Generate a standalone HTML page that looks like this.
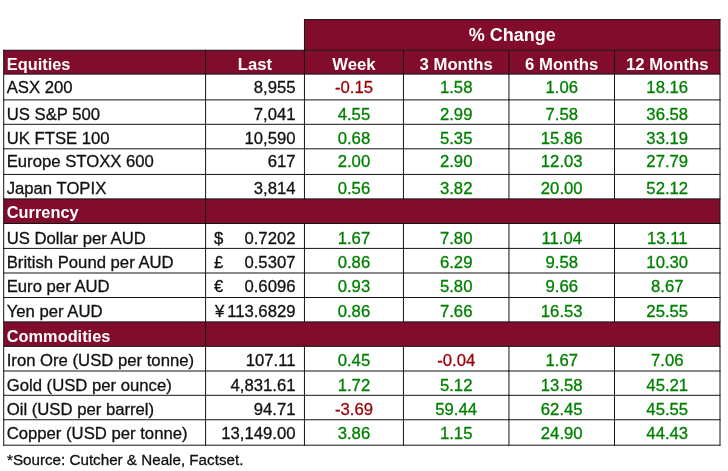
<!DOCTYPE html>
<html><head><meta charset="utf-8"><title>Market table</title>
<style>
html,body{margin:0;padding:0;background:#fff;}
body{width:728px;height:471px;overflow:hidden;}
svg{display:block;position:absolute;left:0;top:0;}
text{font-family:"Liberation Sans",sans-serif;font-size:16.7px;fill:#111111;}
.t,.r,.g,.n{stroke-width:0.3px;}
.t,.r{stroke:#111111;}
.b{font-weight:bold;fill:#fff;}
.c{text-anchor:middle;}
.r{text-anchor:end;}
.g{fill:#008000;stroke:#008000;}
.n{fill:#9c0006;stroke:#9c0006;}
.m{fill:#820c2c;}
.l{fill:#151515;}
</style></head><body>
<svg width="728" height="471" viewBox="0 0 728 471">
<rect class="m" x="304.45" y="19.60" width="415.55" height="30.65"/>
<rect class="m" x="3.70" y="50.25" width="716.30" height="23.85"/>
<rect class="m" x="3.70" y="198.90" width="716.30" height="24.60"/>
<rect class="m" x="3.70" y="321.90" width="716.30" height="24.45"/>
<rect class="l" x="303.95" y="19.10" width="416.55" height="1.00"/>
<rect class="l" x="3.20" y="49.75" width="717.30" height="1.00"/>
<rect class="l" x="3.20" y="73.60" width="717.30" height="1.00"/>
<rect class="l" x="3.20" y="99.40" width="717.30" height="1.00"/>
<rect class="l" x="3.20" y="123.80" width="717.30" height="1.00"/>
<rect class="l" x="3.20" y="148.30" width="717.30" height="1.00"/>
<rect class="l" x="3.20" y="173.95" width="717.30" height="1.00"/>
<rect class="l" x="3.20" y="198.40" width="717.30" height="1.00"/>
<rect class="l" x="3.20" y="223.00" width="717.30" height="1.00"/>
<rect class="l" x="3.20" y="247.90" width="717.30" height="1.00"/>
<rect class="l" x="3.20" y="272.50" width="717.30" height="1.00"/>
<rect class="l" x="3.20" y="297.00" width="717.30" height="1.00"/>
<rect class="l" x="3.20" y="321.40" width="717.30" height="1.00"/>
<rect class="l" x="3.20" y="345.85" width="717.30" height="1.00"/>
<rect class="l" x="3.20" y="370.50" width="717.30" height="1.00"/>
<rect class="l" x="3.20" y="394.80" width="717.30" height="1.00"/>
<rect class="l" x="3.20" y="419.25" width="717.30" height="1.00"/>
<rect class="l" x="3.20" y="444.70" width="717.30" height="1.00"/>
<rect class="l" x="3.20" y="49.75" width="1.00" height="395.95"/>
<rect class="l" x="719.50" y="19.10" width="1.00" height="426.60"/>
<rect class="l" x="205.10" y="49.75" width="1.00" height="395.95"/>
<rect class="l" x="303.95" y="19.10" width="1.00" height="180.30"/>
<rect class="l" x="303.95" y="223.00" width="1.00" height="99.40"/>
<rect class="l" x="303.95" y="345.85" width="1.00" height="99.85"/>
<rect class="l" x="402.95" y="49.75" width="1.00" height="24.85"/>
<rect class="l" x="508.45" y="49.75" width="1.00" height="24.85"/>
<rect class="l" x="614.00" y="49.75" width="1.00" height="24.85"/>
<rect class="l" x="402.95" y="73.60" width="1.00" height="26.80"/>
<rect class="l" x="508.45" y="73.60" width="1.00" height="26.80"/>
<rect class="l" x="614.00" y="73.60" width="1.00" height="26.80"/>
<rect class="l" x="402.95" y="99.40" width="1.00" height="25.40"/>
<rect class="l" x="508.45" y="99.40" width="1.00" height="25.40"/>
<rect class="l" x="614.00" y="99.40" width="1.00" height="25.40"/>
<rect class="l" x="402.95" y="123.80" width="1.00" height="25.50"/>
<rect class="l" x="508.45" y="123.80" width="1.00" height="25.50"/>
<rect class="l" x="614.00" y="123.80" width="1.00" height="25.50"/>
<rect class="l" x="402.95" y="148.30" width="1.00" height="26.65"/>
<rect class="l" x="508.45" y="148.30" width="1.00" height="26.65"/>
<rect class="l" x="614.00" y="148.30" width="1.00" height="26.65"/>
<rect class="l" x="402.95" y="173.95" width="1.00" height="25.45"/>
<rect class="l" x="508.45" y="173.95" width="1.00" height="25.45"/>
<rect class="l" x="614.00" y="173.95" width="1.00" height="25.45"/>
<rect class="l" x="402.95" y="223.00" width="1.00" height="25.90"/>
<rect class="l" x="508.45" y="223.00" width="1.00" height="25.90"/>
<rect class="l" x="614.00" y="223.00" width="1.00" height="25.90"/>
<rect class="l" x="402.95" y="247.90" width="1.00" height="25.60"/>
<rect class="l" x="508.45" y="247.90" width="1.00" height="25.60"/>
<rect class="l" x="614.00" y="247.90" width="1.00" height="25.60"/>
<rect class="l" x="402.95" y="272.50" width="1.00" height="25.50"/>
<rect class="l" x="508.45" y="272.50" width="1.00" height="25.50"/>
<rect class="l" x="614.00" y="272.50" width="1.00" height="25.50"/>
<rect class="l" x="402.95" y="297.00" width="1.00" height="25.40"/>
<rect class="l" x="508.45" y="297.00" width="1.00" height="25.40"/>
<rect class="l" x="614.00" y="297.00" width="1.00" height="25.40"/>
<rect class="l" x="402.95" y="345.85" width="1.00" height="25.65"/>
<rect class="l" x="508.45" y="345.85" width="1.00" height="25.65"/>
<rect class="l" x="614.00" y="345.85" width="1.00" height="25.65"/>
<rect class="l" x="402.95" y="370.50" width="1.00" height="25.30"/>
<rect class="l" x="508.45" y="370.50" width="1.00" height="25.30"/>
<rect class="l" x="614.00" y="370.50" width="1.00" height="25.30"/>
<rect class="l" x="402.95" y="394.80" width="1.00" height="25.45"/>
<rect class="l" x="508.45" y="394.80" width="1.00" height="25.45"/>
<rect class="l" x="614.00" y="394.80" width="1.00" height="25.45"/>
<rect class="l" x="402.95" y="419.25" width="1.00" height="26.45"/>
<rect class="l" x="508.45" y="419.25" width="1.00" height="26.45"/>
<rect class="l" x="614.00" y="419.25" width="1.00" height="26.45"/>
<text class="b c" x="512.23" y="41.30" style="font-size:18px">% Change</text>
<text class="b" x="6.80" y="70.00" style="font-size:16.35px">Equities</text>
<text class="b c" x="255.02" y="70.00">Last</text>
<text class="b c" x="353.95" y="70.00">Week</text>
<text class="b c" x="456.20" y="70.00">3 Months</text>
<text class="b c" x="561.73" y="70.00">6 Months</text>
<text class="b c" x="667.25" y="70.00">12 Months</text>
<text class="t" x="6.70" y="93.00">ASX 200</text>
<text class="r" x="295.50" y="93.00">8,955</text>
<text class="c n" x="353.95" y="93.00">-0.15</text>
<text class="c g" x="456.20" y="93.00">1.58</text>
<text class="c g" x="561.73" y="93.00">1.06</text>
<text class="c g" x="667.25" y="93.00">18.16</text>
<text class="t" x="6.70" y="120.00">US S&amp;P 500</text>
<text class="r" x="295.50" y="120.00">7,041</text>
<text class="c g" x="353.95" y="120.00">4.55</text>
<text class="c g" x="456.20" y="120.00">2.99</text>
<text class="c g" x="561.73" y="120.00">7.58</text>
<text class="c g" x="667.25" y="120.00">36.58</text>
<text class="t" x="6.70" y="144.00">UK FTSE 100</text>
<text class="r" x="295.50" y="144.00">10,590</text>
<text class="c g" x="353.95" y="144.00">0.68</text>
<text class="c g" x="456.20" y="144.00">5.35</text>
<text class="c g" x="561.73" y="144.00">15.86</text>
<text class="c g" x="667.25" y="144.00">33.19</text>
<text class="t" x="6.70" y="167.00">Europe STOXX 600</text>
<text class="r" x="295.50" y="167.00">617</text>
<text class="c g" x="353.95" y="167.00">2.00</text>
<text class="c g" x="456.20" y="167.00">2.90</text>
<text class="c g" x="561.73" y="167.00">12.03</text>
<text class="c g" x="667.25" y="167.00">27.79</text>
<text class="t" x="6.70" y="194.00">Japan TOPIX</text>
<text class="r" x="295.50" y="194.00">3,814</text>
<text class="c g" x="353.95" y="194.00">0.56</text>
<text class="c g" x="456.20" y="194.00">3.82</text>
<text class="c g" x="561.73" y="194.00">20.00</text>
<text class="c g" x="667.25" y="194.00">52.12</text>
<text class="b" x="6.80" y="218.00" style="font-size:16.35px">Currency</text>
<text class="t" x="6.70" y="244.00">US Dollar per AUD</text>
<text class="t" x="214.00" y="244.00">$</text>
<text class="r" x="295.50" y="244.00">0.7202</text>
<text class="c g" x="353.95" y="244.00">1.67</text>
<text class="c g" x="456.20" y="244.00">7.80</text>
<text class="c g" x="561.73" y="244.00">11.04</text>
<text class="c g" x="667.25" y="244.00">13.11</text>
<text class="t" x="6.70" y="268.00">British Pound per AUD</text>
<text class="t" x="214.00" y="268.00">£</text>
<text class="r" x="295.50" y="268.00">0.5307</text>
<text class="c g" x="353.95" y="268.00">0.86</text>
<text class="c g" x="456.20" y="268.00">6.29</text>
<text class="c g" x="561.73" y="268.00">9.58</text>
<text class="c g" x="667.25" y="268.00">10.30</text>
<text class="t" x="6.70" y="292.00">Euro per AUD</text>
<text class="t" x="214.00" y="292.00">€</text>
<text class="r" x="295.50" y="292.00">0.6096</text>
<text class="c g" x="353.95" y="292.00">0.93</text>
<text class="c g" x="456.20" y="292.00">5.80</text>
<text class="c g" x="561.73" y="292.00">9.66</text>
<text class="c g" x="667.25" y="292.00">8.67</text>
<text class="t" x="6.70" y="317.00">Yen per AUD</text>
<text class="t" x="215.00" y="317.00">¥</text>
<text class="r" x="295.50" y="317.00">113.6829</text>
<text class="c g" x="353.95" y="317.00">0.86</text>
<text class="c g" x="456.20" y="317.00">7.66</text>
<text class="c g" x="561.73" y="317.00">16.53</text>
<text class="c g" x="667.25" y="317.00">25.55</text>
<text class="b" x="6.80" y="342.00" style="font-size:16.35px">Commodities</text>
<text class="t" x="6.70" y="366.00">Iron Ore (USD per tonne)</text>
<text class="r" x="295.50" y="366.00">107.11</text>
<text class="c g" x="353.95" y="366.00">0.45</text>
<text class="c n" x="456.20" y="366.00">-0.04</text>
<text class="c g" x="561.73" y="366.00">1.67</text>
<text class="c g" x="667.25" y="366.00">7.06</text>
<text class="t" x="6.70" y="391.00">Gold (USD per ounce)</text>
<text class="r" x="295.50" y="391.00">4,831.61</text>
<text class="c g" x="353.95" y="391.00">1.72</text>
<text class="c g" x="456.20" y="391.00">5.12</text>
<text class="c g" x="561.73" y="391.00">13.58</text>
<text class="c g" x="667.25" y="391.00">45.21</text>
<text class="t" x="6.70" y="415.00">Oil (USD per barrel)</text>
<text class="r" x="295.50" y="415.00">94.71</text>
<text class="c n" x="353.95" y="415.00">-3.69</text>
<text class="c g" x="456.20" y="415.00">59.44</text>
<text class="c g" x="561.73" y="415.00">62.45</text>
<text class="c g" x="667.25" y="415.00">45.55</text>
<text class="t" x="6.70" y="439.00">Copper (USD per tonne)</text>
<text class="r" x="295.50" y="439.00">13,149.00</text>
<text class="c g" x="353.95" y="439.00">3.86</text>
<text class="c g" x="456.20" y="439.00">1.15</text>
<text class="c g" x="561.73" y="439.00">24.90</text>
<text class="c g" x="667.25" y="439.00">44.43</text>
<text class="t" x="7.00" y="465.20" style="font-size:15.2px">*Source: Cutcher &amp; Neale, Factset.</text>
</svg>
</body></html>
